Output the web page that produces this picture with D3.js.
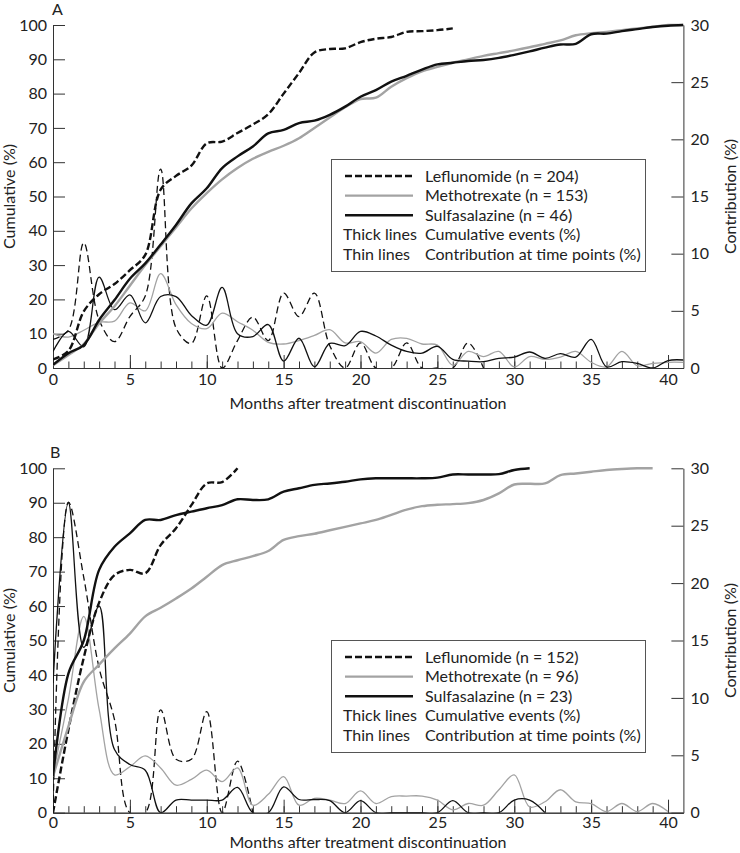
<!DOCTYPE html>
<html><head><meta charset="utf-8">
<script src="https://cdn.jsdelivr.net/npm/d3@7"></script>
<style>
body{margin:0;background:#fff;}
svg{display:block;font-family:Lato, "Open Sans", sans-serif;}
</style></head>
<body><svg id="chart" width="740" height="853"></svg>
<script>
// ---------- DATA (month index = array position) ----------
const seriesNames = ["Leflunomide", "Methotrexate", "Sulfasalazine"];
const xTickLabels = [0, 5, 10, 15, 20, 25, 30, 35, 40];
const leftTicks = [0, 10, 20, 30, 40, 50, 60, 70, 80, 90, 100];
const rightTicks = [0, 5, 10, 15, 20, 25, 30];

// Panel A: cumulative events (%)
const A_lefCum = [2.5, 5, 16.5, 21.5, 24.5, 28.5, 33, 52, 56, 59, 65.5, 66, 68.5, 71, 74, 80, 86, 92, 93, 93.2, 95, 96, 96.5, 98, 98.2, 98.5, 99];
const A_mtxCum = [0.8, 3.8, 7, 13, 18, 24, 30, 35.5, 41, 46.5, 51, 55, 58.3, 61, 63, 64.8, 67, 70, 73, 76, 78.4, 78.8, 82, 84.5, 86.5, 87.8, 89, 90, 91, 91.8, 92.6, 93.5, 94.5, 95.5, 97, 97.6, 98, 98.5, 99, 99.5, 100, 100];
const A_sszCum = [0.9, 4.3, 6.7, 14, 19.8, 26, 30.5, 36, 41.7, 48, 52.4, 58.3, 61.7, 64.6, 68.4, 69.4, 71.4, 72.1, 73.8, 76.2, 79.1, 81, 83.5, 85.2, 87, 88.5, 89, 89.5, 89.8, 90.4, 91.3, 92.3, 93.4, 94.3, 94.5, 97.3, 97.5, 98.2, 98.8, 99.4, 99.8, 100];
// Panel A: contribution at time points (%)
const A_lefCon = [2.5, 3.3, 10.95, 4.2, 2.3, 4.5, 6.3, 17.4, 3.5, 2.15, 6.3, 0, 2.4, 4.45, 2.4, 6.55, 4.5, 6.55, 1.95, 0, 2.2, 0, 0, 2.2, 0, 0, 0, 2.2, 0];
const A_mtxCon = [3.0, 2.7, 3.3, 4.0, 4.1, 5.7, 5.0, 8.25, 5.55, 3.9, 3.45, 4.8, 4.05, 3.3, 2.25, 2.1, 2.4, 2.85, 3.35, 2.2, 2.3, 1.3, 2.5, 2.6, 2.1, 2.0, 0.25, 1.45, 1.0, 1.45, 0.1, 1.0, 0.75, 0.95, 1.45, 0.5, 0.1, 1.45, 0.2, 0.4, 0.5, 0.5];
const A_sszCon = [1.45, 3.2, 1.85, 7.95, 5.1, 6.4, 3.95, 6.25, 6.25, 4.6, 3.75, 7.05, 3.0, 2.75, 3.8, 0.6, 2.6, 0.1, 2.15, 1.95, 3.2, 2.8, 2.0, 1.45, 1.3, 1.9, 0.75, 0.6, 0.55, 0.85, 0.95, 1.4, 0.85, 1.25, 0.95, 2.5, 0.1, 0.55, 0.4, 0, 0.65, 0.7];
const A_counts = [204, 153, 46];

// Panel B: cumulative events (%)
const B_lefCum = [0, 24, 45, 61, 69, 70.5, 69.5, 77.7, 82.6, 89.3, 95.6, 96, 100];
const B_mtxCum = [10.5, 25, 38, 43, 47.7, 52, 57, 59.5, 62.2, 65.1, 68.5, 71.9, 73.3, 74.5, 76, 79.2, 80.3, 81, 82, 83, 84, 85, 86.5, 88, 89, 89.4, 89.6, 89.9, 90.8, 92.7, 95.3, 95.5, 95.6, 98, 98.5, 99, 99.5, 99.8, 100, 100];
const B_sszCum = [10.5, 40.4, 50, 70.5, 77.2, 81.1, 85, 85, 86.4, 87.4, 88.4, 89.3, 91, 90.8, 91, 93.2, 94.2, 95.2, 95.6, 96.1, 96.8, 97.1, 97.1, 97.1, 97.1, 97.3, 98.2, 98.2, 98.2, 98.3, 99.5, 100];
// Panel B: contribution at time points (%)
const B_lefCon = [0, 27.05, 20.5, 12.6, 8.1, 0, 0, 8.95, 4.65, 4.65, 8.8, 0, 4.5, 0];
const B_mtxCon = [3.3, 9.9, 17.1, 9, 3.3, 4.0, 4.95, 3.9, 2.4, 2.9, 3.7, 2.7, 3.9, 0.65, 1.6, 3.15, 0.65, 1.25, 1.1, 0.8, 1.9, 0.8, 1.4, 1.45, 1.45, 1.1, 0.25, 0.8, 0.65, 2.0, 3.3, 0.5, 0.95, 2.0, 0.95, 0.8, 0.1, 0.8, 0.1, 0.8, 0.1];
const B_sszCon = [11.3, 27, 14.4, 18, 5.5, 4.2, 3.7, 0, 1.1, 1.1, 1.1, 1.1, 2.2, 0, 0, 2.25, 1.15, 1.15, 1.05, 0, 1.05, 0, 0, 0, 0, 0, 1.05, 0, 0, 0, 1.1, 1.1, 0];
const B_counts = [152, 96, 23];

const legendExtra = [["Thick lines", "Cumulative events (%)"], ["Thin lines", "Contribution at time points (%)"]];

// ---------- DRAWING ----------
const svg = d3.select("#chart");
const AX = "#333";
const GRAY = "#a3a3a3";
const FS = 16;

function panel(cfg) {
  const x = d3.scaleLinear().domain([0, 41]).range([53, 683.4]);
  const yL = d3.scaleLinear().domain([0, 100]).range([cfg.bottom, cfg.top]);
  const yR = d3.scaleLinear().domain([0, 30]).range([cfg.bottom, cfg.top]);
  const g = svg.append("g");

  const clipId = "clip" + cfg.label;
  svg.append("clipPath").attr("id", clipId).append("rect")
    .attr("x", x(0)).attr("y", cfg.top - 10).attr("width", x(41) - x(0)).attr("height", cfg.bottom - cfg.top + 10);

  const styleAxis = sel => {
    sel.selectAll("path,line").attr("stroke", AX).attr("stroke-width", 1);
    sel.selectAll("text").attr("fill", "#222").attr("font-size", FS).attr("font-family", "Lato, sans-serif");
  };

  // minor x ticks
  g.append("g").attr("transform", `translate(0,${cfg.bottom})`)
    .call(d3.axisBottom(x).tickValues(d3.range(0, 41)).tickSize(-6.5).tickSizeOuter(0).tickFormat(""))
    .call(styleAxis);
  // major x ticks
  g.append("g").attr("transform", `translate(0,${cfg.bottom})`)
    .call(d3.axisBottom(x).tickValues(xTickLabels).tickSize(-13).tickSizeOuter(0).tickPadding(cfg.xPad))
    .call(styleAxis);
  g.append("g").attr("transform", `translate(${x(0)},0)`)
    .call(d3.axisLeft(yL).tickValues(leftTicks).tickSize(-12).tickSizeOuter(0).tickPadding(6))
    .call(styleAxis);
  g.append("g").attr("transform", `translate(${x(41)},0)`)
    .call(d3.axisRight(yR).tickValues(rightTicks).tickSize(-12).tickSizeOuter(0).tickPadding(7))
    .call(styleAxis);

  // axis titles
  const midY = (cfg.top + cfg.bottom) / 2;
  g.append("text").attr("transform", `translate(15,${midY}) rotate(-90)`).attr("text-anchor", "middle")
    .attr("font-size", FS).attr("fill", "#222").text("Cumulative (%)");
  g.append("text").attr("transform", `translate(736,${midY}) rotate(-90)`).attr("text-anchor", "middle")
    .attr("font-size", FS).attr("fill", "#222").text("Contribution (%)");
  g.append("text").attr("x", 368).attr("y", cfg.bottom + cfg.titleOff).attr("text-anchor", "middle")
    .attr("font-size", FS).attr("fill", "#222").text("Months after treatment discontinuation");
  g.append("text").attr("x", cfg.labelX).attr("y", cfg.top - 10).attr("font-size", FS).attr("fill", "#222").text(cfg.label);

  const curve = d3.curveCatmullRom.alpha(0.5);
  const lineL = d3.line().x((d, i) => x(i)).y(d => yL(d)).curve(curve);
  const lineR = d3.line().x((d, i) => x(i)).y(d => yR(d)).curve(curve);
  const plot = g.append("g").attr("clip-path", `url(#${clipId})`);

  const styles = [
    { color: "#111", dashThin: "7,4", dashThick: "7,3" },
    { color: GRAY, dashThin: null, dashThick: null },
    { color: "#111", dashThin: null, dashThick: null }
  ];
  // thin contribution lines
  cfg.con.forEach((arr, k) => {
    plot.append("path").datum(arr).attr("d", lineR).attr("fill", "none")
      .attr("stroke", styles[k].color).attr("stroke-width", 1.3)
      .attr("stroke-dasharray", styles[k].dashThin);
  });
  // thick cumulative lines
  cfg.cum.forEach((arr, k) => {
    plot.append("path").datum(arr).attr("d", lineL).attr("fill", "none")
      .attr("stroke", styles[k].color).attr("stroke-width", 2.4)
      .attr("stroke-dasharray", styles[k].dashThick);
  });

  // legend
  const lg = g.append("g");
  lg.append("rect").attr("x", 331.5).attr("y", cfg.legTop + 0.5).attr("width", 314).attr("height", 112)
    .attr("fill", "#fff").attr("stroke", "#555").attr("stroke-width", 1);
  const rowY = i => cfg.legTop + 17 + i * 19.6;
  seriesNames.forEach((nm, k) => {
    lg.append("line").attr("x1", 345).attr("x2", 413).attr("y1", rowY(k)).attr("y2", rowY(k))
      .attr("stroke", styles[k].color).attr("stroke-width", 2.4).attr("stroke-dasharray", styles[k].dashThick);
    lg.append("text").attr("x", 425).attr("y", rowY(k)).attr("dy", "0.35em").attr("font-size", FS).attr("fill", "#222")
      .text(`${nm} (n = ${cfg.counts[k]})`);
  });
  legendExtra.forEach((row, j) => {
    lg.append("text").attr("x", 343).attr("y", rowY(3 + j)).attr("dy", "0.35em").attr("font-size", FS).attr("fill", "#222").text(row[0]);
    lg.append("text").attr("x", 425).attr("y", rowY(3 + j)).attr("dy", "0.35em").attr("font-size", FS).attr("fill", "#222").text(row[1]);
  });
}

panel({ label: "A", labelX: 52, top: 25, bottom: 368, legTop: 159, xPad: 6, titleOff: 41,
  cum: [A_lefCum, A_mtxCum, A_sszCum], con: [A_lefCon, A_mtxCon, A_sszCon], counts: A_counts });
panel({ label: "B", labelX: 50, top: 468.3, bottom: 812.7, legTop: 640, xPad: 4, titleOff: 35,
  cum: [B_lefCum, B_mtxCum, B_sszCum], con: [B_lefCon, B_mtxCon, B_sszCon], counts: B_counts });
</script>
</body></html>
